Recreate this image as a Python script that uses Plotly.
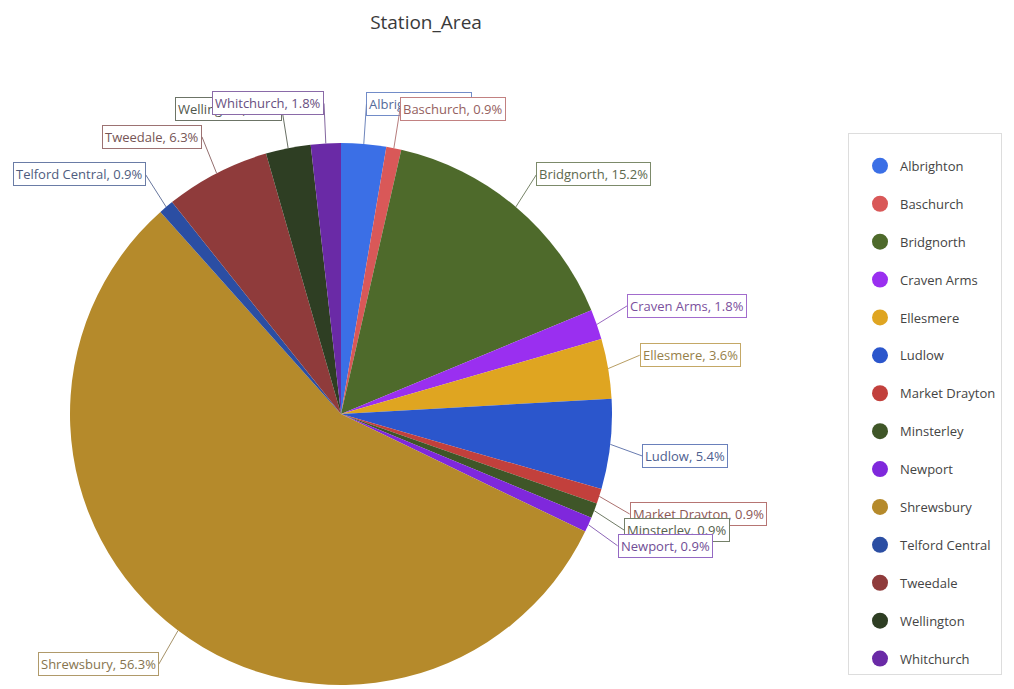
import math
import plotly.graph_objects as go

stations = ["Albrighton", "Baschurch", "Bridgnorth", "Craven Arms", "Ellesmere", "Ludlow",
            "Market Drayton", "Minsterley", "Newport", "Shrewsbury", "Telford Central",
            "Tweedale", "Wellington", "Whitchurch"]
counts = [3, 1, 17, 2, 4, 6, 1, 1, 1, 63, 1, 7, 3, 2]
colors = ["#3b6fe6", "#d95858", "#4e6a2b", "#9a2ff0", "#dfa521", "#2b56cc",
          "#c2403c", "#3f5628", "#7f28dc", "#b58a2b", "#2b4ea3", "#8f3b3b",
          "#2e3e23", "#6a2aa6"]

# page body has an 8px margin, so the figure is sized / offset to compensate
OFF = 8
W, H = 1014 - OFF, 689 - OFF
R = 271                      # pie radius in px
CX, CY = 341 - OFF, 414 - OFF  # pie centre in figure px
ML = CX - R
MR = W - (CX + R)
MT = 120
MB = H - (CY + R)
PW, PH = W - ML - MR, H - MT - MB
LEAD_X, LEAD_Y, SPREAD = 32, 40, 8


def pct_text(v, total):
    p = math.floor(v / total * 1000 + 0.5) / 10
    return f"{p:.1f}%"


def blend(c, other="#555555", t=0.45):
    a = [int(c[i:i + 2], 16) for i in (1, 3, 5)]
    b = [int(other[i:i + 2], 16) for i in (1, 3, 5)]
    m = [round(a[k] * t + b[k] * (1 - t)) for k in range(3)]
    return "#%02x%02x%02x" % tuple(m)


cy_p = (H - MB - CY) / PH
ry_p = R / PH

fig = go.Figure()
fig.add_trace(go.Pie(
    labels=stations, values=counts, sort=False, direction="clockwise", rotation=0,
    marker=dict(colors=colors, line=dict(width=0)),
    textinfo="none", showlegend=False,
    domain=dict(x=[0, 1], y=[cy_p - ry_p, cy_p + ry_p]),
))

for name, col in zip(stations, colors):
    fig.add_trace(go.Scatter(
        x=[None], y=[None], mode="markers", name=name, legendgroup=name,
        marker=dict(symbol="circle", size=16, color=col),
        showlegend=True, hoverinfo="skip",
    ))

total = sum(counts)
annotations = []
cum = 0
for name, v, col in zip(stations, counts, colors):
    mid = (cum + v / 2) / total * 2 * math.pi
    cum += v
    s, c = math.sin(mid), math.cos(mid)
    dy = LEAD_Y * c + SPREAD * math.copysign(1, c) * (1 - abs(c))
    annotations.append(dict(
        x=0.5 + 0.5 * s, y=cy_p + ry_p * c, xref="paper", yref="paper",
        text=f"{name}, {pct_text(v, total)}",
        showarrow=True, arrowhead=0, arrowwidth=1, arrowcolor=blend(col, "#999999", 0.45),
        ax=LEAD_X * s, ay=-dy, standoff=0,
        xanchor="left" if s >= 0 else "right", yanchor="middle",
        font=dict(size=13, color=blend(col, "#666666", 0.4), family="Open Sans"),
        bordercolor=blend(col, "#aaaaaa", 0.5), borderwidth=1, borderpad=2,
        bgcolor="white",
    ))

fig.update_layout(
    width=W, height=H,
    margin=dict(l=ML, r=MR, t=MT, b=MB),
    paper_bgcolor="white", plot_bgcolor="white",
    title=dict(text="Station_Area", x=(426 - OFF) / W, xanchor="center",
               y=1 - (22 - OFF) / H, yanchor="middle",
               font=dict(size=19, color="#3a3a3a", family="Open Sans")),
    xaxis=dict(visible=False), yaxis=dict(visible=False),
    annotations=annotations,
    legend=dict(
        x=(848 - OFF - ML) / PW, xanchor="left",
        y=(H - MB - (133 - OFF)) / PH, yanchor="top",
        bordercolor="#dddddd", borderwidth=1, bgcolor="white",
        font=dict(size=13, color="#444444", family="Open Sans"),
        traceorder="grouped", tracegroupgap=18, indentation=11,
        title=dict(text=" ", font=dict(size=13)),
    ),
    showlegend=True,
)

fig.write_html("out.html")
